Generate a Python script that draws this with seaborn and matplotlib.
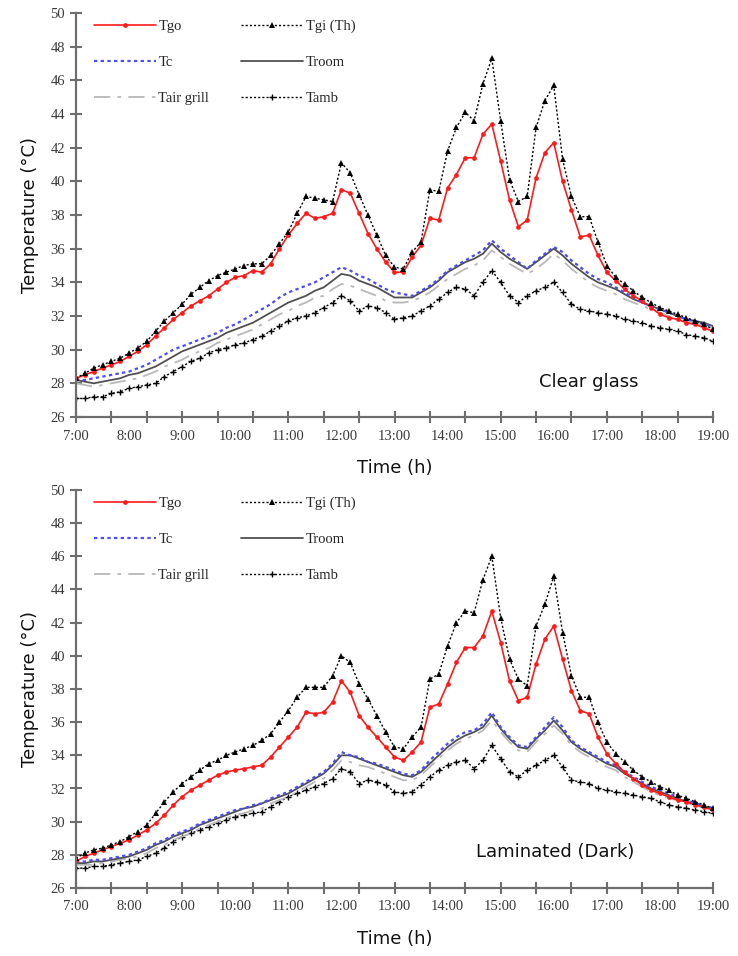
import numpy as np
import pandas as pd
import matplotlib
matplotlib.use("Agg")
import matplotlib.pyplot as plt
import seaborn as sns

# ---------------- data (10-minute readings, 7:00 .. 19:00) ----------------
START_H, END_H, STEP_MIN = 7, 19, 10
hour_labels = ["7:00", "8:00", "9:00", "10:00", "11:00", "12:00", "13:00",
               "14:00", "15:00", "16:00", "17:00", "18:00", "19:00"]
y_ticks = [26, 28, 30, 32, 34, 36, 38, 40, 42, 44, 46, 48, 50]

# Clear glass
tgo_top = [28.3, 28.5, 28.7, 28.9, 29.1, 29.3,
           29.6, 29.9, 30.3, 30.8, 31.3, 31.8,
           32.2, 32.6, 32.9, 33.2, 33.6, 34.0,
           34.3, 34.4, 34.7, 34.6, 35.1, 36.0,
           36.8, 37.5, 38.1, 37.8, 37.9, 38.1,
           39.5, 39.3, 38.1, 36.9, 36.0, 35.2,
           34.6, 34.6, 35.5, 36.2, 37.8, 37.7,
           39.6, 40.4, 41.4, 41.4, 42.8, 43.4,
           41.2, 38.9, 37.3, 37.7, 40.2, 41.7,
           42.3, 40.0, 38.3, 36.7, 36.8, 35.6,
           34.6, 34.1, 33.6, 33.2, 32.9, 32.5,
           32.1, 31.9, 31.8, 31.6, 31.5, 31.3,
           31.1]
tgi_top = [28.3, 28.6, 28.9, 29.1, 29.3, 29.5,
           29.8, 30.1, 30.5, 31.1, 31.7, 32.2,
           32.7, 33.3, 33.7, 34.1, 34.4, 34.6,
           34.8, 35.0, 35.1, 35.1, 35.6, 36.3,
           37.0, 38.1, 39.1, 39.0, 38.9, 38.8,
           41.1, 40.5, 39.2, 38.0, 36.8, 35.6,
           34.9, 34.8, 35.8, 36.4, 39.5, 39.4,
           41.8, 43.2, 44.1, 43.6, 45.8, 47.3,
           43.6, 40.1, 38.8, 39.1, 43.2, 44.8,
           45.7, 41.3, 39.1, 37.9, 37.9, 36.4,
           35.0, 34.3, 33.9, 33.5, 33.1, 32.8,
           32.5, 32.3, 32.1, 31.9, 31.7, 31.5,
           31.2]
tc_top = [28.2, 28.2, 28.3, 28.4, 28.5, 28.6,
          28.7, 28.9, 29.1, 29.4, 29.7, 30.0,
          30.2, 30.4, 30.6, 30.8, 31.0, 31.3,
          31.5, 31.8, 32.1, 32.4, 32.7, 33.1,
          33.4, 33.6, 33.8, 34.0, 34.3, 34.6,
          34.9, 34.7, 34.4, 34.2, 33.9, 33.6,
          33.4, 33.3, 33.2, 33.5, 33.8, 34.2,
          34.7, 35.0, 35.3, 35.6, 35.9, 36.5,
          36.0, 35.6, 35.2, 34.8, 35.3, 35.7,
          36.1, 35.8, 35.3, 34.9, 34.5, 34.2,
          34.0, 33.7, 33.4, 33.1, 32.8, 32.6,
          32.4, 32.2, 32.0, 31.8, 31.7, 31.5,
          31.4]
troom_top = [28.2, 28.1, 28.0, 28.1, 28.2, 28.3,
             28.5, 28.6, 28.8, 29.0, 29.3, 29.6,
             29.9, 30.1, 30.3, 30.5, 30.7, 31.0,
             31.2, 31.4, 31.6, 31.9, 32.2, 32.5,
             32.8, 33.0, 33.2, 33.5, 33.7, 34.1,
             34.5, 34.4, 34.1, 33.9, 33.7, 33.4,
             33.1, 33.1, 33.1, 33.4, 33.7, 34.1,
             34.6, 34.9, 35.2, 35.4, 35.7, 36.3,
             35.8, 35.4, 35.1, 34.8, 35.2, 35.6,
             36.0, 35.6, 35.1, 34.7, 34.3, 34.0,
             33.8, 33.6, 33.3, 33.0, 32.8, 32.6,
             32.4, 32.2, 32.0, 31.8, 31.7, 31.6,
             31.4]
tair_top = [28.0, 27.9, 27.8, 27.9, 28.0, 28.1,
            28.2, 28.3, 28.5, 28.7, 29.0, 29.2,
            29.4, 29.7, 29.9, 30.1, 30.4, 30.6,
            30.8, 31.0, 31.2, 31.5, 31.8, 32.1,
            32.3, 32.6, 32.8, 33.1, 33.2, 33.6,
            33.9, 33.8, 33.6, 33.4, 33.2, 32.9,
            32.8, 32.8, 32.9, 33.1, 33.4, 33.8,
            34.2, 34.5, 34.8, 35.0, 35.3, 35.9,
            35.5, 35.1, 34.8, 34.5, 34.8, 35.2,
            35.7, 35.3, 34.8, 34.4, 34.0, 33.7,
            33.5, 33.3, 33.0, 32.8, 32.6, 32.4,
            32.2, 32.0, 31.9, 31.7, 31.6, 31.4,
            31.3]
tamb_top = [27.1, 27.1, 27.2, 27.2, 27.4, 27.5,
            27.7, 27.8, 27.9, 28.0, 28.4, 28.7,
            29.0, 29.3, 29.5, 29.8, 30.0, 30.1,
            30.3, 30.4, 30.6, 30.8, 31.1, 31.4,
            31.7, 31.9, 32.0, 32.2, 32.5, 32.8,
            33.2, 32.9, 32.3, 32.6, 32.5, 32.2,
            31.8, 31.9, 32.0, 32.3, 32.6, 33.0,
            33.4, 33.7, 33.6, 33.2, 34.0, 34.7,
            34.0, 33.2, 32.8, 33.2, 33.5, 33.7,
            34.0, 33.4, 32.7, 32.4, 32.3, 32.2,
            32.1, 32.0, 31.8, 31.7, 31.6, 31.4,
            31.3, 31.2, 31.1, 30.9, 30.8, 30.7,
            30.5]

# Laminated (Dark)
tgo_bot = [27.6, 27.9, 28.1, 28.3, 28.5, 28.7,
           28.9, 29.2, 29.5, 29.9, 30.4, 31.0,
           31.5, 31.9, 32.2, 32.5, 32.8, 33.0,
           33.1, 33.2, 33.3, 33.4, 33.9, 34.5,
           35.1, 35.7, 36.6, 36.5, 36.6, 37.2,
           38.5, 37.8, 36.4, 35.7, 35.1, 34.5,
           33.9, 33.7, 34.2, 34.8, 36.9, 37.1,
           38.3, 39.6, 40.5, 40.5, 41.2, 42.7,
           40.8, 38.5, 37.3, 37.5, 39.5, 41.0,
           41.8, 39.8, 37.9, 36.7, 36.5, 35.1,
           34.1, 33.5, 33.0, 32.6, 32.2, 31.9,
           31.7, 31.5, 31.3, 31.2, 31.0, 30.9,
           30.7]
tgi_bot = [27.8, 28.1, 28.3, 28.4, 28.6, 28.8,
           29.1, 29.4, 29.8, 30.5, 31.2, 31.8,
           32.3, 32.7, 33.1, 33.5, 33.7, 34.0,
           34.2, 34.4, 34.6, 34.9, 35.3, 36.0,
           36.7, 37.5, 38.1, 38.1, 38.1, 38.8,
           40.0, 39.6, 38.3, 37.4, 36.4, 35.4,
           34.5, 34.4, 35.1, 35.7, 38.6, 38.9,
           40.6, 42.0, 42.7, 42.6, 44.6, 46.0,
           42.3, 39.8, 38.6, 38.2, 41.8, 43.1,
           44.8, 41.4, 38.8, 37.5, 37.5, 36.0,
           34.8, 34.1, 33.6, 33.1, 32.7, 32.4,
           32.1, 31.9, 31.6, 31.4, 31.2, 31.0,
           30.8]
tc_bot = [27.6, 27.6, 27.7, 27.7, 27.8, 27.9,
          28.0, 28.2, 28.4, 28.7, 28.9, 29.2,
          29.4, 29.6, 29.9, 30.1, 30.3, 30.5,
          30.7, 30.8, 31.0, 31.1, 31.4, 31.6,
          31.8, 32.1, 32.4, 32.7, 33.0, 33.5,
          34.2, 34.0, 33.9, 33.6, 33.5, 33.3,
          33.1, 32.9, 32.8, 33.1, 33.7, 34.2,
          34.7, 35.1, 35.4, 35.5, 35.9, 36.6,
          35.7, 35.1, 34.6, 34.5, 35.1, 35.7,
          36.3, 35.7, 34.9, 34.5, 34.2, 33.9,
          33.6, 33.4, 33.0, 32.7, 32.4, 32.1,
          31.9, 31.7, 31.5, 31.3, 31.1, 31.0,
          30.8]
troom_bot = [27.5, 27.5, 27.6, 27.6, 27.7, 27.8,
             27.9, 28.1, 28.3, 28.6, 28.8, 29.1,
             29.3, 29.5, 29.8, 30.0, 30.2, 30.4,
             30.6, 30.8, 30.9, 31.1, 31.3, 31.5,
             31.7, 32.0, 32.3, 32.6, 32.9, 33.4,
             34.0, 34.0, 33.8, 33.6, 33.4, 33.2,
             33.0, 32.8, 32.7, 33.0, 33.5, 34.0,
             34.5, 34.9, 35.2, 35.4, 35.7, 36.4,
             35.6, 35.0, 34.5, 34.4, 35.0, 35.5,
             36.1, 35.5, 34.8, 34.4, 34.1, 33.8,
             33.5, 33.3, 32.9, 32.6, 32.3, 32.0,
             31.8, 31.6, 31.4, 31.2, 31.1, 30.9,
             30.8]
tair_bot = [27.4, 27.4, 27.4, 27.5, 27.6, 27.7,
            27.8, 27.9, 28.1, 28.4, 28.6, 28.9,
            29.1, 29.3, 29.6, 29.8, 30.0, 30.2,
            30.4, 30.5, 30.7, 30.8, 31.1, 31.3,
            31.5, 31.8, 32.1, 32.4, 32.6, 33.1,
            33.7, 33.6, 33.4, 33.3, 33.1, 32.9,
            32.7, 32.5, 32.5, 32.8, 33.3, 33.8,
            34.3, 34.7, 35.0, 35.2, 35.5, 36.1,
            35.4, 34.8, 34.3, 34.2, 34.8, 35.3,
            35.8, 35.3, 34.6, 34.2, 33.9, 33.6,
            33.3, 33.1, 32.7, 32.4, 32.1, 31.8,
            31.6, 31.4, 31.3, 31.1, 31.0, 30.8,
            30.7]
tamb_bot = [27.2, 27.2, 27.3, 27.3, 27.4, 27.5,
            27.6, 27.7, 27.9, 28.1, 28.4, 28.8,
            29.1, 29.3, 29.5, 29.7, 29.9, 30.1,
            30.3, 30.4, 30.5, 30.6, 30.9, 31.2,
            31.5, 31.7, 31.9, 32.1, 32.3, 32.6,
            33.2, 33.0, 32.3, 32.5, 32.4, 32.2,
            31.8, 31.7, 31.8, 32.2, 32.7, 33.1,
            33.4, 33.6, 33.7, 33.2, 33.7, 34.6,
            33.8, 33.0, 32.7, 33.1, 33.4, 33.7,
            34.0, 33.3, 32.5, 32.4, 32.3, 32.0,
            31.9, 31.8, 31.7, 31.6, 31.5, 31.4,
            31.2, 31.0, 30.9, 30.8, 30.7, 30.6,
            30.5]

panels = [
    {"title": "Clear glass", "Tgo": tgo_top, "Tgi (Th)": tgi_top, "Tc": tc_top,
     "Troom": troom_top, "Tair grill": tair_top, "Tamb": tamb_top},
    {"title": "Laminated (Dark)", "Tgo": tgo_bot, "Tgi (Th)": tgi_bot, "Tc": tc_bot,
     "Troom": troom_bot, "Tair grill": tair_bot, "Tamb": tamb_bot},
]

# ---------------- styles ----------------
styles = {
    "Tamb":       dict(color="black", linestyle=(0, (1.5, 1.5)), linewidth=1.0,
                       marker="+", markersize=4.5, markeredgewidth=1.0,
                       markeredgecolor="black"),
    "Tair grill": dict(color="#b8b8b8", linestyle=(0, (9, 4, 2, 4)), linewidth=1.3),
    "Troom":      dict(color="#505050", linestyle="-", linewidth=1.3),
    "Tc":         dict(color="#4b4bff", linestyle=(0, (1.5, 1.5)), linewidth=1.6),
    "Tgo":        dict(color="#ff1a1a", linestyle="-", linewidth=1.2,
                       marker="o", markersize=3.4, markeredgewidth=0),
    "Tgi (Th)":   dict(color="black", linestyle=(0, (1.5, 1.5)), linewidth=1.0,
                       marker="^", markersize=5.0, markeredgewidth=0),
}
draw_order = ["Tamb", "Tair grill", "Troom", "Tc", "Tgo", "Tgi (Th)"]
legend_order = ["Tgo", "Tc", "Tair grill", "Tgi (Th)", "Troom", "Tamb"]

sns.set_style("white")
plt.rcParams["font.family"] = ["DejaVu Sans"]

fig = plt.figure(figsize=(7.38, 9.56), dpi=100)
W, H = 738, 956
ax_boxes = [(76, 13, 713, 417), (76, 490, 713, 888)]

n = len(tgo_top)
time_h = START_H + np.arange(n) * STEP_MIN / 60.0
hour_pos = np.arange(START_H, END_H + 1)
tick_pos = np.arange(START_H, END_H + 0.001, 2.0 / 3.0)
serif = ["Liberation Serif", "DejaVu Serif"]
axis_grey = "#6e6e6e"

text_pos = [(15.72, 28.1), (14.54, 28.2)]

for k, (panel, box) in enumerate(zip(panels, ax_boxes)):
    x0, y0, x1, y1 = box
    ax = fig.add_axes([x0 / W, 1 - y1 / H, (x1 - x0) / W, (y1 - y0) / H])
    df = pd.DataFrame({"time": time_h})
    for name in draw_order:
        df[name] = panel[name]
    for name in draw_order:
        sns.lineplot(data=df, x="time", y=name, ax=ax, label=name,
                     **styles[name])

    ax.set_xlim(START_H, END_H)
    ax.set_ylim(26, 50)
    ax.xaxis.remove_overlapping_locs = False
    ax.set_yticks(y_ticks)
    ax.set_yticklabels([str(v) for v in y_ticks], fontfamily=serif,
                       fontsize=10.5, color="#3a3a3a")
    ax.set_xticks(tick_pos)
    ax.set_xticklabels([""] * len(tick_pos))
    ax.set_xticks(hour_pos, minor=True)
    ax.set_xticklabels(hour_labels, minor=True, fontfamily=serif,
                       fontsize=10.5, color="#3a3a3a")
    ax.tick_params(axis="both", which="major", direction="inout", length=8,
                   width=1.5, color=axis_grey, pad=6, bottom=True, left=True)
    ax.tick_params(axis="x", which="minor", length=0, pad=9, bottom=True)
    ax.tick_params(axis="y", pad=4)

    for s in ["top", "right"]:
        ax.spines[s].set_visible(False)
    for s in ["left", "bottom"]:
        ax.spines[s].set_color(axis_grey)
        ax.spines[s].set_linewidth(1.6)

    ax.set_xlabel("Time (h)", fontsize=13, color="#111111")
    ax.set_ylabel("Temperature (\u00b0C)", fontsize=13, color="#111111")
    ax.xaxis.set_label_coords(0.5, -0.105)
    ax.yaxis.set_label_coords(-0.058, 0.5)

    ax.text(text_pos[k][0], text_pos[k][1], panel["title"], fontsize=13,
            color="#111111", va="center", ha="left")

    handles, labels = ax.get_legend_handles_labels()
    hmap = dict(zip(labels, handles))
    ax.legend([hmap[l] for l in legend_order], legend_order, ncol=2,
              loc="upper left", bbox_to_anchor=(0.015, 1.005), frameon=False,
              prop={"family": serif, "size": 10.5}, handlelength=4.2,
              handletextpad=0.2, labelspacing=1.55, columnspacing=2.2,
              borderaxespad=0.2)

fig.savefig("out.png", dpi=100)
